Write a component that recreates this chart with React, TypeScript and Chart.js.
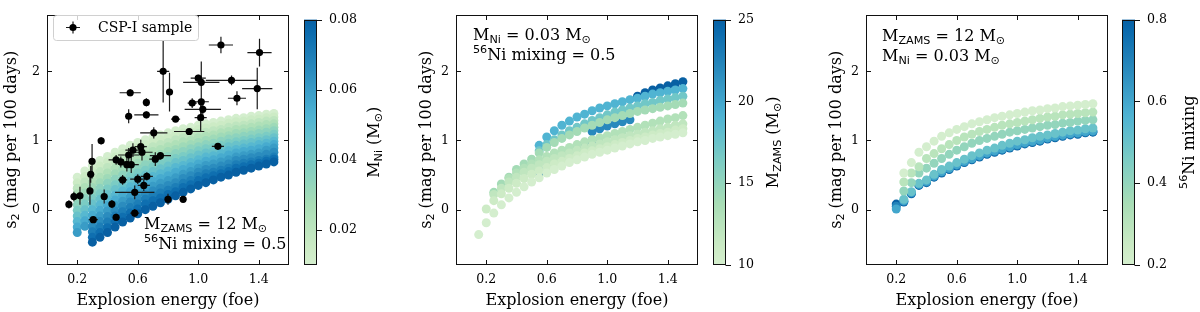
import React, { useEffect, useRef } from "react";
import { Chart, registerables } from "chart.js";

Chart.register(...registerables);

// ====================== DATA ======================
// Explosion-energy grid (foe)
const energyGrid = [0.2, 0.25, 0.3, 0.35, 0.4, 0.45, 0.5, 0.55, 0.6, 0.65, 0.7, 0.75, 0.8, 0.85, 0.9, 0.95, 1.0, 1.05, 1.1, 1.15, 1.2, 1.25, 1.3, 1.35, 1.4, 1.45, 1.5];
const energyGridWide = [0.15, 0.2, 0.25, 0.3, 0.35, 0.4, 0.45, 0.5, 0.55, 0.6, 0.65, 0.7, 0.75, 0.8, 0.85, 0.9, 0.95, 1.0, 1.05, 1.1, 1.15, 1.2, 1.25, 1.3, 1.35, 1.4, 1.45, 1.5];

// Panel 1: M_ZAMS = 12, mixing = 0.5, varying M_Ni (drawn in this order)
const niLevels = [0.01, 0.015, 0.02, 0.025, 0.03, 0.035, 0.04, 0.045, 0.05, 0.055, 0.06, 0.065, 0.07, 0.075, 0.08];
const s2Ni0100 = [0.47, 0.56, 0.64, 0.71, 0.77, 0.83, 0.88, 0.93, 0.97, 1.01, 1.05, 1.08, 1.11, 1.14, 1.17, 1.19, 1.22, 1.24, 1.26, 1.28, 1.30, 1.32, 1.33, 1.35, 1.36, 1.38, 1.39];
const s2Ni0150 = [0.39, 0.48, 0.56, 0.63, 0.69, 0.76, 0.81, 0.86, 0.90, 0.94, 0.98, 1.01, 1.04, 1.08, 1.11, 1.13, 1.16, 1.18, 1.20, 1.22, 1.25, 1.27, 1.28, 1.30, 1.31, 1.33, 1.34];
const s2Ni0200 = [0.31, 0.40, 0.48, 0.55, 0.61, 0.68, 0.73, 0.78, 0.82, 0.87, 0.91, 0.94, 0.97, 1.01, 1.04, 1.06, 1.10, 1.12, 1.14, 1.16, 1.19, 1.21, 1.22, 1.24, 1.26, 1.28, 1.29];
const s2Ni0250 = [0.23, 0.32, 0.40, 0.47, 0.53, 0.60, 0.66, 0.71, 0.75, 0.80, 0.84, 0.87, 0.91, 0.94, 0.98, 1.00, 1.04, 1.06, 1.08, 1.11, 1.13, 1.16, 1.17, 1.19, 1.21, 1.23, 1.24];
const s2Ni0300 = [0.15, 0.24, 0.32, 0.39, 0.45, 0.52, 0.58, 0.63, 0.67, 0.72, 0.76, 0.80, 0.84, 0.87, 0.91, 0.94, 0.97, 1.00, 1.02, 1.05, 1.07, 1.10, 1.11, 1.13, 1.15, 1.17, 1.19];
const s2Ni0350 = [0.07, 0.16, 0.24, 0.31, 0.38, 0.44, 0.50, 0.56, 0.60, 0.65, 0.69, 0.73, 0.77, 0.81, 0.84, 0.88, 0.91, 0.94, 0.96, 0.99, 1.02, 1.04, 1.06, 1.08, 1.10, 1.12, 1.14];
const s2Ni0400 = [-0.01, 0.08, 0.16, 0.23, 0.30, 0.36, 0.42, 0.48, 0.53, 0.57, 0.62, 0.66, 0.70, 0.74, 0.77, 0.81, 0.85, 0.88, 0.90, 0.93, 0.96, 0.98, 1.00, 1.02, 1.04, 1.06, 1.09];
const s2Ni0450 = [-0.09, 0.00, 0.08, 0.15, 0.22, 0.29, 0.35, 0.41, 0.46, 0.50, 0.55, 0.59, 0.63, 0.68, 0.71, 0.75, 0.79, 0.82, 0.84, 0.87, 0.91, 0.93, 0.95, 0.97, 0.99, 1.01, 1.04];
const s2Ni0500 = [-0.17, -0.08, 0.00, 0.07, 0.14, 0.21, 0.27, 0.33, 0.38, 0.43, 0.48, 0.52, 0.56, 0.61, 0.64, 0.68, 0.72, 0.76, 0.78, 0.81, 0.85, 0.87, 0.89, 0.91, 0.94, 0.96, 0.99];
const s2Ni0550 = [-0.25, -0.16, -0.08, -0.01, 0.06, 0.14, 0.20, 0.26, 0.31, 0.36, 0.41, 0.45, 0.49, 0.54, 0.58, 0.62, 0.66, 0.70, 0.72, 0.75, 0.79, 0.82, 0.84, 0.86, 0.88, 0.91, 0.94];
const s2Ni0600 = [-0.33, -0.24, -0.16, -0.09, -0.02, 0.06, 0.12, 0.18, 0.23, 0.29, 0.34, 0.38, 0.42, 0.46, 0.51, 0.55, 0.60, 0.64, 0.66, 0.69, 0.72, 0.76, 0.78, 0.80, 0.82, 0.86, 0.89];
const s2Ni0650 = [null, null, -0.24, -0.17, -0.10, -0.02, 0.05, 0.11, 0.16, 0.22, 0.27, 0.31, 0.35, 0.39, 0.45, 0.49, 0.54, 0.58, 0.60, 0.63, 0.66, 0.71, 0.73, 0.75, 0.77, 0.80, 0.83];
const s2Ni0700 = [null, null, -0.32, -0.25, -0.18, -0.09, -0.03, 0.03, 0.08, 0.15, 0.20, 0.24, 0.28, 0.32, 0.38, 0.42, 0.48, 0.52, 0.54, 0.57, 0.60, 0.65, 0.67, 0.69, 0.71, 0.73, 0.76];
const s2Ni0750 = [null, null, -0.40, -0.33, -0.26, -0.17, -0.11, -0.05, 0.01, 0.08, 0.13, 0.17, 0.22, 0.26, 0.32, 0.36, 0.42, 0.46, 0.49, 0.52, 0.55, 0.60, 0.62, 0.65, 0.67, 0.70, 0.73];
const s2Ni0800 = [null, null, -0.47, -0.40, -0.33, -0.25, -0.18, -0.12, -0.06, 0.00, 0.05, 0.10, 0.15, 0.20, 0.25, 0.30, 0.35, 0.39, 0.43, 0.47, 0.50, 0.54, 0.57, 0.60, 0.63, 0.66, 0.69];
const panel1Rows = [s2Ni0100, s2Ni0150, s2Ni0200, s2Ni0250, s2Ni0300, s2Ni0350, s2Ni0400, s2Ni0450, s2Ni0500, s2Ni0550, s2Ni0600, s2Ni0650, s2Ni0700, s2Ni0750, s2Ni0800];

// CSP-I sample
const cspEnergy = [0.145, 0.178, 0.218, 0.284, 0.289, 0.298, 0.306, 0.358, 0.378, 0.429, 0.457, 0.457, 0.488, 0.50, 0.528, 0.54, 0.54, 0.55, 0.557, 0.568, 0.58, 0.58, 0.60, 0.62, 0.628, 0.64, 0.657, 0.657, 0.66, 0.706, 0.716, 0.75, 0.768, 0.80, 0.81, 0.85, 0.90, 0.94, 0.96, 1.00, 1.016, 1.02, 1.02, 1.03, 1.13, 1.15, 1.22, 1.256, 1.39, 1.405];
const cspS2 = [0.075, 0.19, 0.20, 0.27, 0.51, 0.70, -0.145, 0.995, 0.19, 0.08, -0.11, 0.72, 0.69, 0.43, 0.65, 1.35, 0.79, 1.69, 0.65, 0.86, 0.25, -0.05, 0.44, 0.91, 0.83, 0.35, 1.55, 1.37, 0.48, 1.11, 0.73, 0.78, 2.00, 0.15, 1.70, 1.31, 0.15, 1.13, 1.54, 1.90, 1.33, 1.84, 1.56, 1.45, 0.915, 2.38, 1.87, 1.61, 1.75, 2.27];
const cspEnergyErr = [0.02, 0.02, 0.02, 0.02, 0.01, 0.02, 0.03, 0.02, 0.02, 0.02, 0.02, 0.05, 0.05, 0.03, 0.05, 0.02, 0.07, 0.07, 0.05, 0.05, 0.13, 0.03, 0.05, 0.04, 0.07, 0.04, 0.02, 0.08, 0.04, 0.09, 0.04, 0.07, 0.04, 0.02, 0.02, 0.03, 0.02, 0.10, 0.03, 0.05, 0.04, 0.12, 0.05, 0.12, 0.04, 0.08, 0.17, 0.06, 0.10, 0.08];
const cspS2Err = [0.06, 0.07, 0.13, 0.20, 0.12, 0.25, 0.04, 0.05, 0.10, 0.06, 0.05, 0.07, 0.08, 0.07, 0.10, 0.10, 0.10, 0.05, 0.12, 0.10, 0.10, 0.06, 0.07, 0.10, 0.12, 0.08, 0.06, 0.05, 0.06, 0.08, 0.10, 0.05, 0.45, 0.08, 0.28, 0.03, 0.04, 0.03, 0.07, 0.05, 0.20, 0.30, 0.20, 0.10, 0.03, 0.12, 0.07, 0.10, 0.30, 0.20];

// Panel 2: M_Ni = 0.03, mixing = 0.5, varying M_ZAMS (on energyGridWide; drawn in this order)
const zamsMasses = [24, 22, 25, 19, 17, 14, 13, 12, 11, 10];
const s2M24 = [null, null, null, null, null, null, null, null, 0.53, 0.61, 0.69, 0.76, 0.83, 0.89, 0.95, 1.00, null, null, null, null, null, null, null, null, null, null, null, null];
const s2M22 = [null, null, null, null, null, null, null, null, null, null, null, null, null, null, null, 1.13, 1.17, 1.21, 1.24, 1.27, 1.30, null, null, null, null, null, null, null];
const s2M25 = [null, null, null, null, null, null, null, null, null, null, null, null, null, null, null, null, null, null, null, null, null, 1.64, 1.69, 1.73, 1.76, 1.79, 1.82, 1.85];
const s2M19 = [null, null, null, null, null, null, null, null, 0.93, 1.05, 1.14, 1.22, 1.28, 1.34, 1.38, 1.43, 1.47, 1.50, 1.53, 1.56, 1.59, 1.61, 1.64, 1.67, 1.69, 1.71, 1.73, 1.75];
const s2M17 = [null, null, null, null, null, null, null, null, 0.85, 0.94, 1.01, 1.08, 1.14, 1.19, 1.24, 1.29, 1.33, 1.37, 1.41, 1.44, 1.47, 1.50, 1.53, 1.55, 1.58, 1.60, 1.62, 1.64];
const s2M14 = [null, null, 0.25, 0.37, 0.47, 0.58, 0.66, 0.73, 0.82, 0.90, 0.97, 1.03, 1.08, 1.13, 1.18, 1.22, 1.26, 1.30, 1.33, 1.36, 1.39, 1.42, 1.44, 1.46, 1.48, 1.50, 1.52, 1.54];
const s2M13 = [null, null, null, null, 0.45, 0.53, 0.60, 0.66, 0.72, 0.77, 0.82, 0.86, 0.90, 0.94, 0.98, 1.01, 1.04, 1.07, 1.10, 1.13, 1.16, 1.19, 1.22, 1.25, 1.28, 1.31, 1.33, 1.36];
const s2M12 = [null, null, 0.22, 0.31, 0.40, 0.47, 0.54, 0.60, 0.65, 0.70, 0.74, 0.78, 0.82, 0.86, 0.89, 0.92, 0.95, 0.98, 1.01, 1.04, 1.07, 1.09, 1.12, 1.14, 1.17, 1.19, 1.22, 1.24];
const s2M11 = [null, 0.01, 0.13, 0.23, 0.31, 0.38, 0.45, 0.51, 0.56, 0.61, 0.66, 0.70, 0.74, 0.78, 0.82, 0.85, 0.88, 0.91, 0.94, 0.97, 1.00, 1.03, 1.05, 1.08, 1.10, 1.12, 1.15, 1.17];
const s2M10 = [-0.36, -0.19, -0.05, 0.07, 0.17, 0.25, 0.33, 0.40, 0.46, 0.53, 0.58, 0.63, 0.68, 0.72, 0.76, 0.80, 0.83, 0.86, 0.89, 0.92, 0.95, 0.98, 1.00, 1.03, 1.05, 1.07, 1.09, 1.11];
const panel2Rows = [s2M24, s2M22, s2M25, s2M19, s2M17, s2M14, s2M13, s2M12, s2M11, s2M10];

// Panel 3: M_ZAMS = 12, M_Ni = 0.03, varying 56Ni mixing (on energyGrid; drawn in this order)
const mixingLevels = [0.8, 0.7, 0.6, 0.5, 0.4, 0.3, 0.2];
const s2Mix08 = [0.08, 0.11, 0.23, 0.35, 0.39, 0.47, 0.53, 0.58, 0.63, 0.68, 0.72, 0.76, 0.80, 0.83, 0.86, 0.89, 0.92, 0.95, 0.97, 0.99, 1.02, 1.04, 1.06, 1.08, 1.09, 1.11, 1.12];
const s2Mix07 = [0.05, 0.12, 0.24, 0.36, 0.40, 0.48, 0.54, 0.59, 0.64, 0.69, 0.73, 0.77, 0.81, 0.84, 0.87, 0.90, 0.93, 0.96, 0.98, 1.00, 1.03, 1.05, 1.07, 1.09, 1.10, 1.12, 1.13];
const s2Mix06 = [0.01, 0.13, 0.25, 0.37, 0.41, 0.49, 0.55, 0.60, 0.65, 0.70, 0.74, 0.78, 0.82, 0.85, 0.88, 0.91, 0.94, 0.97, 0.99, 1.01, 1.04, 1.06, 1.08, 1.10, 1.11, 1.13, 1.14];
const s2Mix05 = [null, 0.15, 0.26, 0.38, 0.43, 0.51, 0.58, 0.63, 0.68, 0.73, 0.78, 0.82, 0.86, 0.89, 0.93, 0.96, 0.99, 1.01, 1.04, 1.06, 1.08, 1.10, 1.12, 1.14, 1.15, 1.17, 1.18];
const s2Mix04 = [null, 0.27, 0.39, 0.53, 0.60, 0.67, 0.74, 0.80, 0.86, 0.91, 0.96, 1.00, 1.03, 1.06, 1.09, 1.12, 1.14, 1.16, 1.18, 1.20, 1.22, 1.23, 1.25, 1.26, 1.28, 1.29, 1.30];
const s2Mix03 = [null, 0.40, 0.53, 0.62, 0.74, 0.81, 0.88, 0.94, 1.00, 1.05, 1.09, 1.13, 1.16, 1.19, 1.22, 1.24, 1.26, 1.28, 1.30, 1.32, 1.34, 1.35, 1.37, 1.38, 1.39, 1.40, 1.41];
const s2Mix02 = [null, 0.53, 0.68, 0.83, 0.91, 0.99, 1.06, 1.11, 1.16, 1.20, 1.24, 1.27, 1.30, 1.33, 1.35, 1.37, 1.39, 1.41, 1.43, 1.44, 1.46, 1.47, 1.49, 1.50, 1.51, 1.52, 1.53];
const panel3Rows = [s2Mix08, s2Mix07, s2Mix06, s2Mix05, s2Mix04, s2Mix03, s2Mix02];

// Axis ticks
const xTickValues = [0.2, 0.6, 1.0, 1.4];
const xTickLabels = ["0.2", "0.6", "1.0", "1.4"];
const yTickValues = [0, 1, 2];
const yTickLabels = ["0", "1", "2"];
const cbNiTicks = [0.02, 0.04, 0.06, 0.08];
const cbNiLabels = ["0.02", "0.04", "0.06", "0.08"];
const cbZamsTicks = [10, 15, 20, 25];
const cbZamsLabels = ["10", "15", "20", "25"];
const cbMixTicks = [0.2, 0.4, 0.6, 0.8];
const cbMixLabels = ["0.2", "0.4", "0.6", "0.8"];

// ====================== STYLE ======================
const SERIF = '"DejaVu Serif", serif';
const SANS = '"DejaVu Sans", sans-serif';
const TICK_FONT = 12.6;
const AXIS_FONT = 16;
const ANNOT_FONT = 16;
const LEGEND_FONT = 14;
const TICK_LEN = 4.5;
const DOT_R = 4.5;

const GNBU = [
  [247, 252, 240], [224, 243, 219], [204, 235, 197], [168, 221, 181], [123, 204, 196],
  [78, 179, 211], [43, 140, 190], [8, 104, 172], [8, 64, 129],
];
function gnbu(u: number) {
  const p = Math.max(0, Math.min(1, u)) * 8;
  const i = Math.min(7, Math.floor(p));
  const f = p - i;
  const a = GNBU[i], b = GNBU[i + 1];
  const c = a.map((v, k) => Math.round(v + (b[k] - v) * f));
  return `rgb(${c[0]},${c[1]},${c[2]})`;
}
function cmap(t: number) {
  return gnbu(0.2 + 0.7 * Math.max(0, Math.min(1, t)));
}

type Seg = { t: string; s?: "sub" | "sup" };
function segFont(seg: Seg, size: number) {
  return seg.s ? `${size * 0.7}px ${SANS}` : `${size}px ${SERIF}`;
}
function richWidth(ctx: CanvasRenderingContext2D, segs: Seg[], size: number) {
  let w = 0;
  for (const s of segs) {
    ctx.font = segFont(s, size);
    w += ctx.measureText(s.t).width;
  }
  return w;
}
function drawRich(ctx: CanvasRenderingContext2D, segs: Seg[], x: number, y: number, size: number, align = "left") {
  let cx = align === "center" ? x - richWidth(ctx, segs, size) / 2 : x;
  ctx.textBaseline = "alphabetic";
  ctx.textAlign = "left";
  ctx.fillStyle = "#000";
  for (const s of segs) {
    ctx.font = segFont(s, size);
    const dy = s.s === "sub" ? size * 0.2 : s.s === "sup" ? -size * 0.4 : 0;
    ctx.fillText(s.t, cx, y + dy);
    cx += ctx.measureText(s.t).width;
  }
}

const xTitle: Seg[] = [{ t: "Explosion energy (foe)" }];
const yTitle: Seg[] = [{ t: "s" }, { t: "2", s: "sub" }, { t: " (mag per 100 days)" }];
const segZams: Seg[] = [{ t: "M" }, { t: "ZAMS", s: "sub" }, { t: " = 12 M" }, { t: "\u2299", s: "sub" }];
const segMix: Seg[] = [{ t: "56", s: "sup" }, { t: "Ni mixing = 0.5" }];
const segNi: Seg[] = [{ t: "M" }, { t: "Ni", s: "sub" }, { t: " = 0.03 M" }, { t: "\u2299", s: "sub" }];

// Chart.js draws lower `order` on top; rows listed first are drawn first (underneath).
function rowsToDatasets(grid: number[], rows: (number | null)[][], colors: string[]) {
  return rows.map((row, i) => ({
    data: row
      .map((v, j) => (v === null ? null : { x: grid[j], y: v }))
      .filter((p) => p !== null),
    backgroundColor: colors[i],
    borderColor: "transparent",
    pointBorderWidth: 0,
    pointRadius: DOT_R,
    pointHoverRadius: DOT_R,
    order: rows.length - i,
  }));
}

function panelDatasets(key: number) {
  if (key === 0) {
    const ds: any[] = rowsToDatasets(energyGrid, panel1Rows, niLevels.map((n) => cmap((n - 0.01) / 0.07)));
    ds.push({
      data: cspEnergy.map((e, i) => ({ x: e, y: cspS2[i] })),
      backgroundColor: "#000",
      borderColor: "transparent",
      pointBorderWidth: 0,
      pointRadius: 3.6,
      pointHoverRadius: 3.6,
      order: -1,
    });
    return ds;
  }
  if (key === 1) return rowsToDatasets(energyGridWide, panel2Rows, zamsMasses.map((m) => cmap((m - 10) / 15)));
  return rowsToDatasets(energyGrid, panel3Rows, mixingLevels.map((m) => cmap((m - 0.2) / 0.6)));
}

type PanelSpec = {
  key: number;
  mainLeft: number;
  cbLeft: number;
  yTitleX: number;
  annotations: { segs: Seg[]; x: number; y: number }[];
  cb: { min: number; max: number; ticks: number[]; labels: string[]; title: Seg[]; titleX: number };
};

const PANELS: PanelSpec[] = [
  {
    key: 0, mainLeft: 0, cbLeft: 300, yTitleX: 10,
    annotations: [{ segs: segZams, x: 144, y: 228.5 }, { segs: segMix, x: 144, y: 248.5 }],
    cb: { min: 0.01, max: 0.08, ticks: cbNiTicks, labels: cbNiLabels, titleX: 73,
      title: [{ t: "M" }, { t: "Ni", s: "sub" }, { t: " (M" }, { t: "\u2299", s: "sub" }, { t: ")" }] },
  },
  {
    key: 1, mainLeft: 409, cbLeft: 709, yTitleX: 16,
    annotations: [{ segs: segNi, x: 64, y: 39.5 }, { segs: segMix, x: 64, y: 59.5 }],
    cb: { min: 10, max: 25, ticks: cbZamsTicks, labels: cbZamsLabels, titleX: 63,
      title: [{ t: "M" }, { t: "ZAMS", s: "sub" }, { t: " (M" }, { t: "\u2299", s: "sub" }, { t: ")" }] },
  },
  {
    key: 2, mainLeft: 819, cbLeft: 1118, yTitleX: 16,
    annotations: [{ segs: segZams, x: 63, y: 40.5 }, { segs: segNi, x: 63, y: 61 }],
    cb: { min: 0.2, max: 0.8, ticks: cbMixTicks, labels: cbMixLabels, titleX: 70,
      title: [{ t: "56", s: "sup" }, { t: "Ni mixing" }] },
  },
];

const MAIN_W = 299;
const CB_W = 82;
const H = 312;

function drawErrorBars(chart: any) {
  const ctx = chart.ctx;
  const xs = chart.scales.x, ys = chart.scales.y;
  ctx.save();
  ctx.strokeStyle = "#1a1a1a";
  ctx.lineWidth = 1.2;
  ctx.beginPath();
  cspEnergy.forEach((e, i) => {
    const y = ys.getPixelForValue(cspS2[i]);
    const x = xs.getPixelForValue(e);
    ctx.moveTo(xs.getPixelForValue(e - cspEnergyErr[i]), y);
    ctx.lineTo(xs.getPixelForValue(e + cspEnergyErr[i]), y);
    ctx.moveTo(x, ys.getPixelForValue(cspS2[i] - cspS2Err[i]));
    ctx.lineTo(x, ys.getPixelForValue(cspS2[i] + cspS2Err[i]));
  });
  ctx.stroke();
  ctx.restore();
}

function drawLegend(ctx: CanvasRenderingContext2D) {
  ctx.save();
  const x = 53.5, y = 15.5, w = 145, h = 25, r = 3;
  ctx.beginPath();
  ctx.moveTo(x + r, y);
  ctx.arcTo(x + w, y, x + w, y + h, r);
  ctx.arcTo(x + w, y + h, x, y + h, r);
  ctx.arcTo(x, y + h, x, y, r);
  ctx.arcTo(x, y, x + w, y, r);
  ctx.closePath();
  ctx.fillStyle = "rgba(255,255,255,0.8)";
  ctx.fill();
  ctx.strokeStyle = "#d0d0d0";
  ctx.lineWidth = 1;
  ctx.stroke();
  const mx = 73, my = 27.5;
  ctx.strokeStyle = "#1a1a1a";
  ctx.lineWidth = 1.2;
  ctx.beginPath();
  ctx.moveTo(mx - 7, my);
  ctx.lineTo(mx + 7, my);
  ctx.moveTo(mx, my - 6);
  ctx.lineTo(mx, my + 6);
  ctx.stroke();
  ctx.beginPath();
  ctx.arc(mx, my, 3.6, 0, Math.PI * 2);
  ctx.fillStyle = "#000";
  ctx.fill();
  ctx.font = `${LEGEND_FONT}px ${SERIF}`;
  ctx.textBaseline = "middle";
  ctx.textAlign = "left";
  ctx.fillText("CSP-I sample", 98, my + 0.5);
  ctx.restore();
}

function mainPlugin(spec: PanelSpec) {
  return {
    id: "mainDeco" + spec.key,
    beforeDatasetDraw(chart: any, args: any) {
      if (spec.key === 0 && args.index === panel1Rows.length) drawErrorBars(chart);
    },
    afterDraw(chart: any) {
      const ctx = chart.ctx as CanvasRenderingContext2D;
      const a = chart.chartArea;
      const xs = chart.scales.x, ys = chart.scales.y;
      ctx.save();
      const L = Math.round(a.left) + 0.5, R = Math.round(a.right) - 0.5;
      const T = Math.round(a.top) + 0.5, B = Math.round(a.bottom) - 0.5;
      ctx.strokeStyle = "#111";
      ctx.lineWidth = 1;
      ctx.beginPath();
      for (const v of xTickValues) {
        const px = Math.round(xs.getPixelForValue(v)) + 0.5;
        ctx.moveTo(px, B); ctx.lineTo(px, B - TICK_LEN);
        ctx.moveTo(px, T); ctx.lineTo(px, T + TICK_LEN);
      }
      for (const v of yTickValues) {
        const py = Math.round(ys.getPixelForValue(v)) + 0.5;
        ctx.moveTo(L, py); ctx.lineTo(L + TICK_LEN, py);
        ctx.moveTo(R, py); ctx.lineTo(R - TICK_LEN, py);
      }
      ctx.stroke();
      ctx.strokeRect(L, T, R - L, B - T);
      drawRich(ctx, xTitle, (a.left + a.right) / 2, 305, AXIS_FONT, "center");
      ctx.save();
      ctx.translate(spec.yTitleX, (a.top + a.bottom) / 2);
      ctx.rotate(-Math.PI / 2);
      drawRich(ctx, yTitle, 0, AXIS_FONT * 0.35, AXIS_FONT, "center");
      ctx.restore();
      for (const an of spec.annotations) drawRich(ctx, an.segs, an.x, an.y, ANNOT_FONT);
      if (spec.key === 0) drawLegend(ctx);
      ctx.restore();
    },
  };
}

function mainConfig(spec: PanelSpec): any {
  return {
    type: "scatter",
    data: { datasets: panelDatasets(spec.key) },
    options: {
      animation: false,
      responsive: false,
      devicePixelRatio: 1,
      events: [],
      layout: { padding: { top: 8, right: 10, left: 0, bottom: 0 } },
      plugins: { legend: { display: false }, tooltip: { enabled: false } },
      scales: {
        x: {
          type: "linear", min: 0, max: 1.6,
          grid: { display: false, drawTicks: false },
          border: { display: false },
          afterBuildTicks: (s: any) => { s.ticks = xTickValues.map((v) => ({ value: v })); },
          afterFit: (s: any) => { s.height = 47; },
          ticks: {
            callback: (_v: any, i: number) => xTickLabels[i],
            font: { family: SERIF, size: TICK_FONT }, color: "#000", padding: 7,
            maxRotation: 0, autoSkip: false,
          },
        },
        y: {
          type: "linear", min: -0.8, max: 2.82,
          grid: { display: false, drawTicks: false },
          border: { display: false },
          afterBuildTicks: (s: any) => { s.ticks = yTickValues.map((v) => ({ value: v })); },
          afterFit: (s: any) => { s.width = 47; },
          ticks: {
            callback: (_v: any, i: number) => yTickLabels[i],
            font: { family: SERIF, size: TICK_FONT }, color: "#000", padding: 7, autoSkip: false,
          },
        },
      },
    },
    plugins: [mainPlugin(spec)],
  };
}

function cbPlugin(spec: PanelSpec) {
  return {
    id: "cbDeco" + spec.key,
    afterDraw(chart: any) {
      const ctx = chart.ctx as CanvasRenderingContext2D;
      const a = chart.chartArea;
      const ys = chart.scales.y;
      ctx.save();
      const L = Math.round(a.left) + 0.5, R = Math.round(a.right) - 0.5;
      const T = Math.round(a.top) + 0.5, B = Math.round(a.bottom) - 0.5;
      ctx.strokeStyle = "#111";
      ctx.lineWidth = 1;
      ctx.strokeRect(L, T, R - L, B - T);
      ctx.beginPath();
      for (const v of spec.cb.ticks) {
        const py = Math.round(ys.getPixelForValue(v)) + 0.5;
        ctx.moveTo(R, py); ctx.lineTo(R + 5.5, py);
      }
      ctx.stroke();
      ctx.translate(spec.cb.titleX, (a.top + a.bottom) / 2);
      ctx.rotate(-Math.PI / 2);
      drawRich(ctx, spec.cb.title, 0, AXIS_FONT * 0.35, AXIS_FONT, "center");
      ctx.restore();
    },
  };
}

function cbConfig(spec: PanelSpec): any {
  const cb = spec.cb;
  return {
    type: "bar",
    data: {
      labels: [""],
      datasets: [{
        data: [[cb.min, cb.max]],
        backgroundColor: (c: any) => {
          const area = c.chart.chartArea;
          if (!area) return cmap(0.5);
          const g = c.chart.ctx.createLinearGradient(0, area.bottom, 0, area.top);
          for (let i = 0; i <= 32; i++) g.addColorStop(i / 32, cmap(i / 32));
          return g;
        },
        borderWidth: 0,
        barPercentage: 1,
        categoryPercentage: 1,
      }],
    },
    options: {
      animation: false,
      responsive: false,
      devicePixelRatio: 1,
      events: [],
      layout: { padding: { left: 4, top: 8, bottom: 47, right: 0 } },
      plugins: { legend: { display: false }, tooltip: { enabled: false } },
      scales: {
        x: { display: false },
        y: {
          position: "right", min: cb.min, max: cb.max,
          grid: { display: false, drawTicks: false },
          border: { display: false },
          afterBuildTicks: (s: any) => { s.ticks = cb.ticks.map((v) => ({ value: v })); },
          afterFit: (s: any) => { s.width = CB_W - 4 - 13; },
          ticks: {
            callback: (_v: any, i: number) => cb.labels[i],
            font: { family: SERIF, size: TICK_FONT }, color: "#000", padding: 12, autoSkip: false,
          },
        },
      },
    },
    plugins: [cbPlugin(spec)],
  };
}

function ChartCanvas({ left, width, config }: { left: number; width: number; config: () => any }) {
  const ref = useRef<HTMLCanvasElement | null>(null);
  useEffect(() => {
    if (!ref.current) return;
    const chart = new Chart(ref.current, config());
    return () => chart.destroy();
  }, []);
  return (
    <canvas
      ref={ref}
      width={width}
      height={H}
      style={{ position: "absolute", left, top: 0, width, height: H }}
    />
  );
}

export default function App() {
  return (
    <div style={{ position: "absolute", left: 0, top: 0, width: 1200, height: H, background: "#fff", overflow: "hidden" }}>
      {PANELS.map((p) => (
        <React.Fragment key={p.key}>
          <ChartCanvas left={p.mainLeft} width={MAIN_W} config={() => mainConfig(p)} />
          <ChartCanvas left={p.cbLeft} width={CB_W} config={() => cbConfig(p)} />
        </React.Fragment>
      ))}
    </div>
  );
}
